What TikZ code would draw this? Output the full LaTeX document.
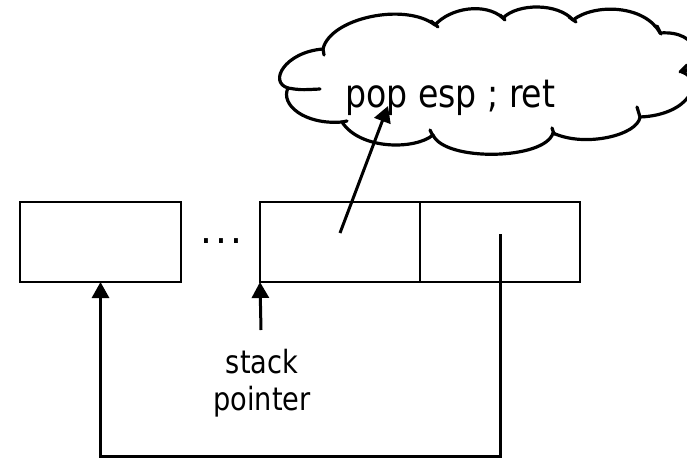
\documentclass[tikz,border=0pt]{standalone}
\usepackage{fontspec}
\setmainfont{DejaVu Sans}[FakeStretch=0.85]
\usetikzlibrary{arrows.meta}
\begin{document}
\begin{tikzpicture}[x=1pt,y=-1pt,
  cell/.style={draw, line width=2.4pt, minimum height=80pt, inner sep=0pt, outer sep=0pt},
  link/.style={line width=3pt, -{Triangle[length=16pt,width=17pt]}},
  cloudline/.style={line width=3.2pt, line join=round, line cap=round},
  note/.style={font=\fontsize{32}{37}\selectfont, align=center, inner sep=0pt}]
\useasboundingbox (0,0) rectangle (687,458);

% speech cloud holding the gadget
\draw[cloudline, fill=white]
  (288,88) .. controls (268,82) and (285,52) .. (323,49)
           .. controls (330,18) and (405,2) .. (435,25)
           .. controls (450,8) and (485,2) .. (503,18)
           .. controls (518,3) and (558,3) .. (573,20)
           .. controls (595,3) and (645,5) .. (660,33)
           .. controls (700,30) and (705,65) .. (682,72)
           .. controls (705,80) and (690,115) .. (640,117)
           .. controls (638,135) and (585,148) .. (553,133)
           .. controls (545,160) and (445,162) .. (433,135)
           .. controls (415,150) and (360,150) .. (342,122)
           .. controls (305,125) and (280,105) .. (288,88) -- cycle;
% inner tails where the puffs meet
\draw[cloudline] (288,88) .. controls (300,90) .. (320,89);
\draw[cloudline] (323,49) -- (324,55);
\draw[cloudline] (431,21) -- (438,27);
\draw[cloudline] (500,15) -- (505,20);
\draw[cloudline] (569,17) -- (576,22);
\draw[cloudline] (657,26) -- (661,34);
\draw[cloudline] (687,65) -- (680,72);
\draw[cloudline] (637,107) -- (640,117);
\draw[cloudline] (552,128) -- (554,134);
\draw[cloudline] (430,130) -- (433,136);
\draw[cloudline] (347,121) -- (342,122);

\node[anchor=base west, font=\fontsize{39}{44}\selectfont, inner sep=0pt] (code) at (345,107) {pop esp ; ret};

% stack cells
\node[cell, minimum width=161pt] (box1) at (100.5,242) {};
\node[font=\fontsize{26}{30}\selectfont\bfseries, inner sep=0pt] (dots) at (221,241) {.\kern6.6pt.\kern6.6pt.};
\node[cell, minimum width=160pt] (box2) at (340,242) {};
\node[cell, minimum width=160pt] (box3) at (500,242) {};

% stack pointer label
\node[note] (sp) at (262,383) {stack\\pointer};

% connectors
\coordinate (gadget) at (340,233);
\coordinate (poptip) at (388,106);
\coordinate (spfoot) at (261,330);
\coordinate (link) at (500,234);
\coordinate (base) at (0,456);

\draw[link] (gadget) -- (poptip);
\draw[link] (spfoot) -- (box2.south west);
\draw[link] (link) -- (link |- base) -- (box1.south |- base) -- (box1.south);
\end{tikzpicture}
\end{document}
